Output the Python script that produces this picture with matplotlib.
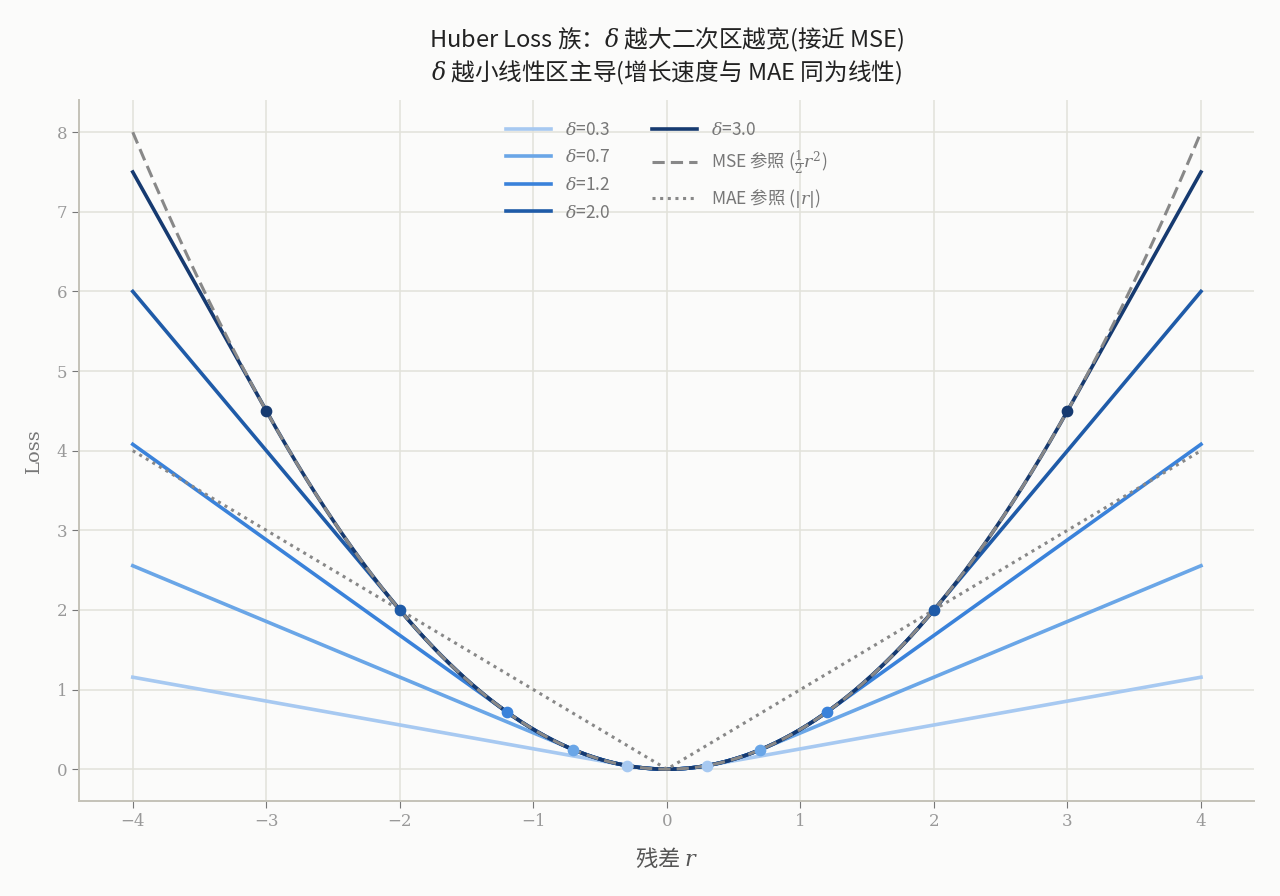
import numpy as np
import matplotlib.pyplot as plt

plt.rcParams['font.family'] = ['DejaVu Serif', 'Noto Sans CJK SC']
plt.rcParams['mathtext.fontset'] = 'custom'
plt.rcParams['mathtext.rm'] = 'DejaVu Serif'
plt.rcParams['mathtext.it'] = 'DejaVu Serif:italic'
plt.rcParams['mathtext.bf'] = 'DejaVu Serif:bold'

CJK = 'Noto Sans CJK SC'

# 数据
deltas = [0.3, 0.7, 1.2, 2.0, 3.0]
colors = ['#a7c9f1', '#6aa6e7', '#3a82da', '#1f5ba8', '#163a70']
r_min, r_max = -4, 4


def huber(r, d):
    a = np.abs(r)
    return np.where(a <= d, 0.5 * r**2, d * (a - 0.5 * d))


r = np.linspace(r_min, r_max, 801)

fig, ax = plt.subplots(figsize=(12.8, 8.96), dpi=100)
fig.patch.set_facecolor('#fbfbfa')
ax.set_facecolor('#fbfbfa')

for d, c in zip(deltas, colors):
    ax.plot(r, huber(r, d), color=c, lw=2.6, label=rf'$\delta$={d:.1f}', zorder=3)
    pts = np.array([-d, d])
    ax.scatter(pts, huber(pts, d), color=c, s=55, zorder=5)

ax.plot(r, 0.5 * r**2, color='#888888', lw=2.2, ls=(0, (4, 2)),
        label=r'MSE 参照 ($\frac{1}{2}r^2$)', zorder=4)
ax.plot(r, np.abs(r), color='#888888', lw=2.2, ls=(0, (1, 1.5)),
        label=r'MAE 参照 ($|r|$)', zorder=4)

ax.set_title('Huber Loss 族：$\\delta$ 越大二次区越宽(接近 MSE)\n'
             '$\\delta$ 越小线性区主导(增长速度与 MAE 同为线性)',
             fontsize=17, color='#222222', pad=14, linespacing=1.2,
             family=CJK)
ax.set_xlabel('残差 $r$', fontsize=16, color='#555555', labelpad=12,
              family=CJK)
ax.set_ylabel('Loss', fontsize=14, color='#777777', labelpad=10)

ax.grid(True, color='#e2e2da', lw=1.1)
ax.set_axisbelow(True)
for s in ['top', 'right']:
    ax.spines[s].set_visible(False)
for s in ['left', 'bottom']:
    ax.spines[s].set_color('#c4c2b8')
    ax.spines[s].set_linewidth(1.4)
ax.tick_params(labelcolor='#999999', labelsize=12, length=5, color='#777777')

leg = ax.legend(loc='upper center', ncol=2, frameon=False,
                prop={'family': CJK, 'size': 12.5},
                handlelength=2.6, columnspacing=2.4, labelspacing=0.55,
                bbox_to_anchor=(0.5, 0.993))
for t in leg.get_texts():
    t.set_color('#777777')

fig.subplots_adjust(left=0.062, right=0.98, top=0.888, bottom=0.106)
fig.savefig('out.png', dpi=100, facecolor=fig.get_facecolor())
